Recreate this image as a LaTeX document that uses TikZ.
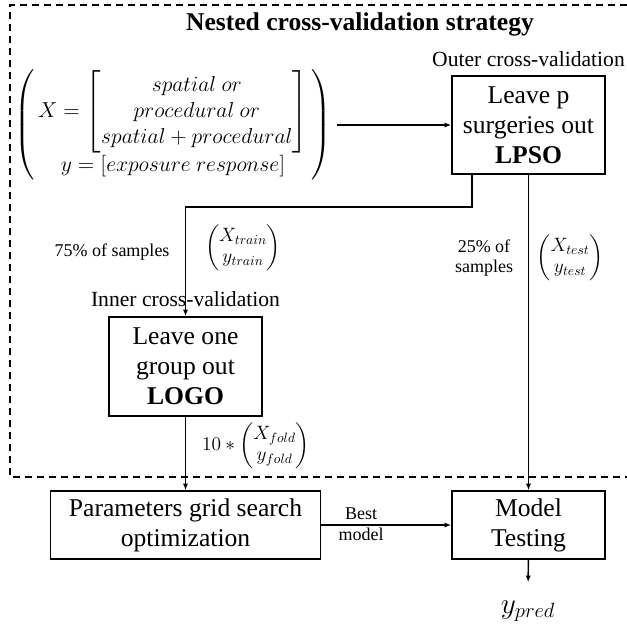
\RequirePackage{fix-cm}
\documentclass[tikz,border=0pt]{standalone}
\usepackage{amsmath}
\usepackage{fontspec}
\setmainfont{Liberation Serif}
\usetikzlibrary{arrows.meta}

\begin{document}
\begin{tikzpicture}[x=0.75pt,y=-0.75pt,thick,
        box/.style = {draw, line width=1.2pt, align=center,
            font=\fontsize{19.2}{22.5}\selectfont},
        cv/.style = {font=\fontsize{16.2}{19}\selectfont},
        small/.style = {align=center, font=\fontsize{13.5}{15.5}\selectfont},
        pair/.style = {font=\fontsize{14.5}{16}\selectfont},
        arr/.style = {-{Latex[length=5pt,width=4pt]}, line width=1.1pt}]

    \useasboundingbox (0,0) rectangle (627,631);

    % Dashed frame
    \draw[line width=1.1pt, dash pattern=on 5.5pt off 3.5pt]
        (627,5) -- (10,5) -- (10,477) -- (627,477);

    % Title
    \node[font=\fontsize{19.2}{22}\selectfont\bfseries, anchor=base] (title) at (360,31)
        {Nested cross-validation strategy};

    % Inputs
    \node[font=\fontsize{16.2}{19.5}\selectfont, inner sep=0pt] (data) at (173,125)
        {$\left(\begin{array}{@{\,}c@{\,}}
            X = \left[\begin{array}{@{}c@{}} spatial\ or\\ procedural\ or\\ spatial + procedural \end{array}\right]\\
            y = [exposure\ response]
        \end{array}\right)$};

    % Outer cross-validation
    \node[box, minimum width=114.75pt, minimum height=73.5pt,
        label={[cv, label distance=2.5pt]above:Outer cross-validation}] (lpso) at (528.5,125)
        {Leave p\\surgeries out\\\textbf{LPSO}};

    % Inner cross-validation
    \node[box, minimum width=114.75pt, minimum height=74.25pt,
        label={[cv, label distance=3.5pt]above:Inner cross-validation}] (logo) at (185.5,366.5)
        {Leave one\\group out\\\textbf{LOGO}};

    % Grid search and testing
    \node[box, minimum width=202.5pt, minimum height=51pt] (grid) at (185.5,525)
        {Parameters grid search\\optimization};
    \node[box, minimum width=114.75pt, minimum height=51pt] (model) at (528.5,525)
        {Model\\Testing};
    \node[font=\fontsize{22}{26}\selectfont] (ypred) at (528,611) {$y_{pred}$};

    % Split labels
    \node[small] (trainpct) at (112,252) {75\% of samples};
    \node[pair] (trainset) at (243,248)
        {$\left(\begin{array}{@{}c@{}} X_{train}\\ y_{train} \end{array}\right)$};
    \node[small] (testpct) at (484,258) {25\% of\\samples};
    \node[pair] (testset) at (570,258)
        {$\left(\begin{array}{@{}c@{}} X_{test}\\ y_{test} \end{array}\right)$};
    \node[pair] (foldset) at (256,446)
        {$10 * \left(\begin{array}{@{}c@{}} X_{fold}\\ y_{fold} \end{array}\right)$};
    \node[small, font=\fontsize{13.5}{16}\selectfont] (best) at (361,524.5) {Best\\model};

    % Connectors
    \coordinate (split) at (472,207);
    \draw[arr] (data.east) ++(4pt,0) -- (data.east -| lpso.west);
    \draw[arr] (lpso.south -| split) -- (split) -| (logo.north);
    \draw[arr] (lpso) -- (model);
    \draw[arr] (logo) -- (grid);
    \draw[arr] (grid) -- (model);
    \draw[arr, shorten >=10pt] (model) -- (ypred);

\end{tikzpicture}
\end{document}
